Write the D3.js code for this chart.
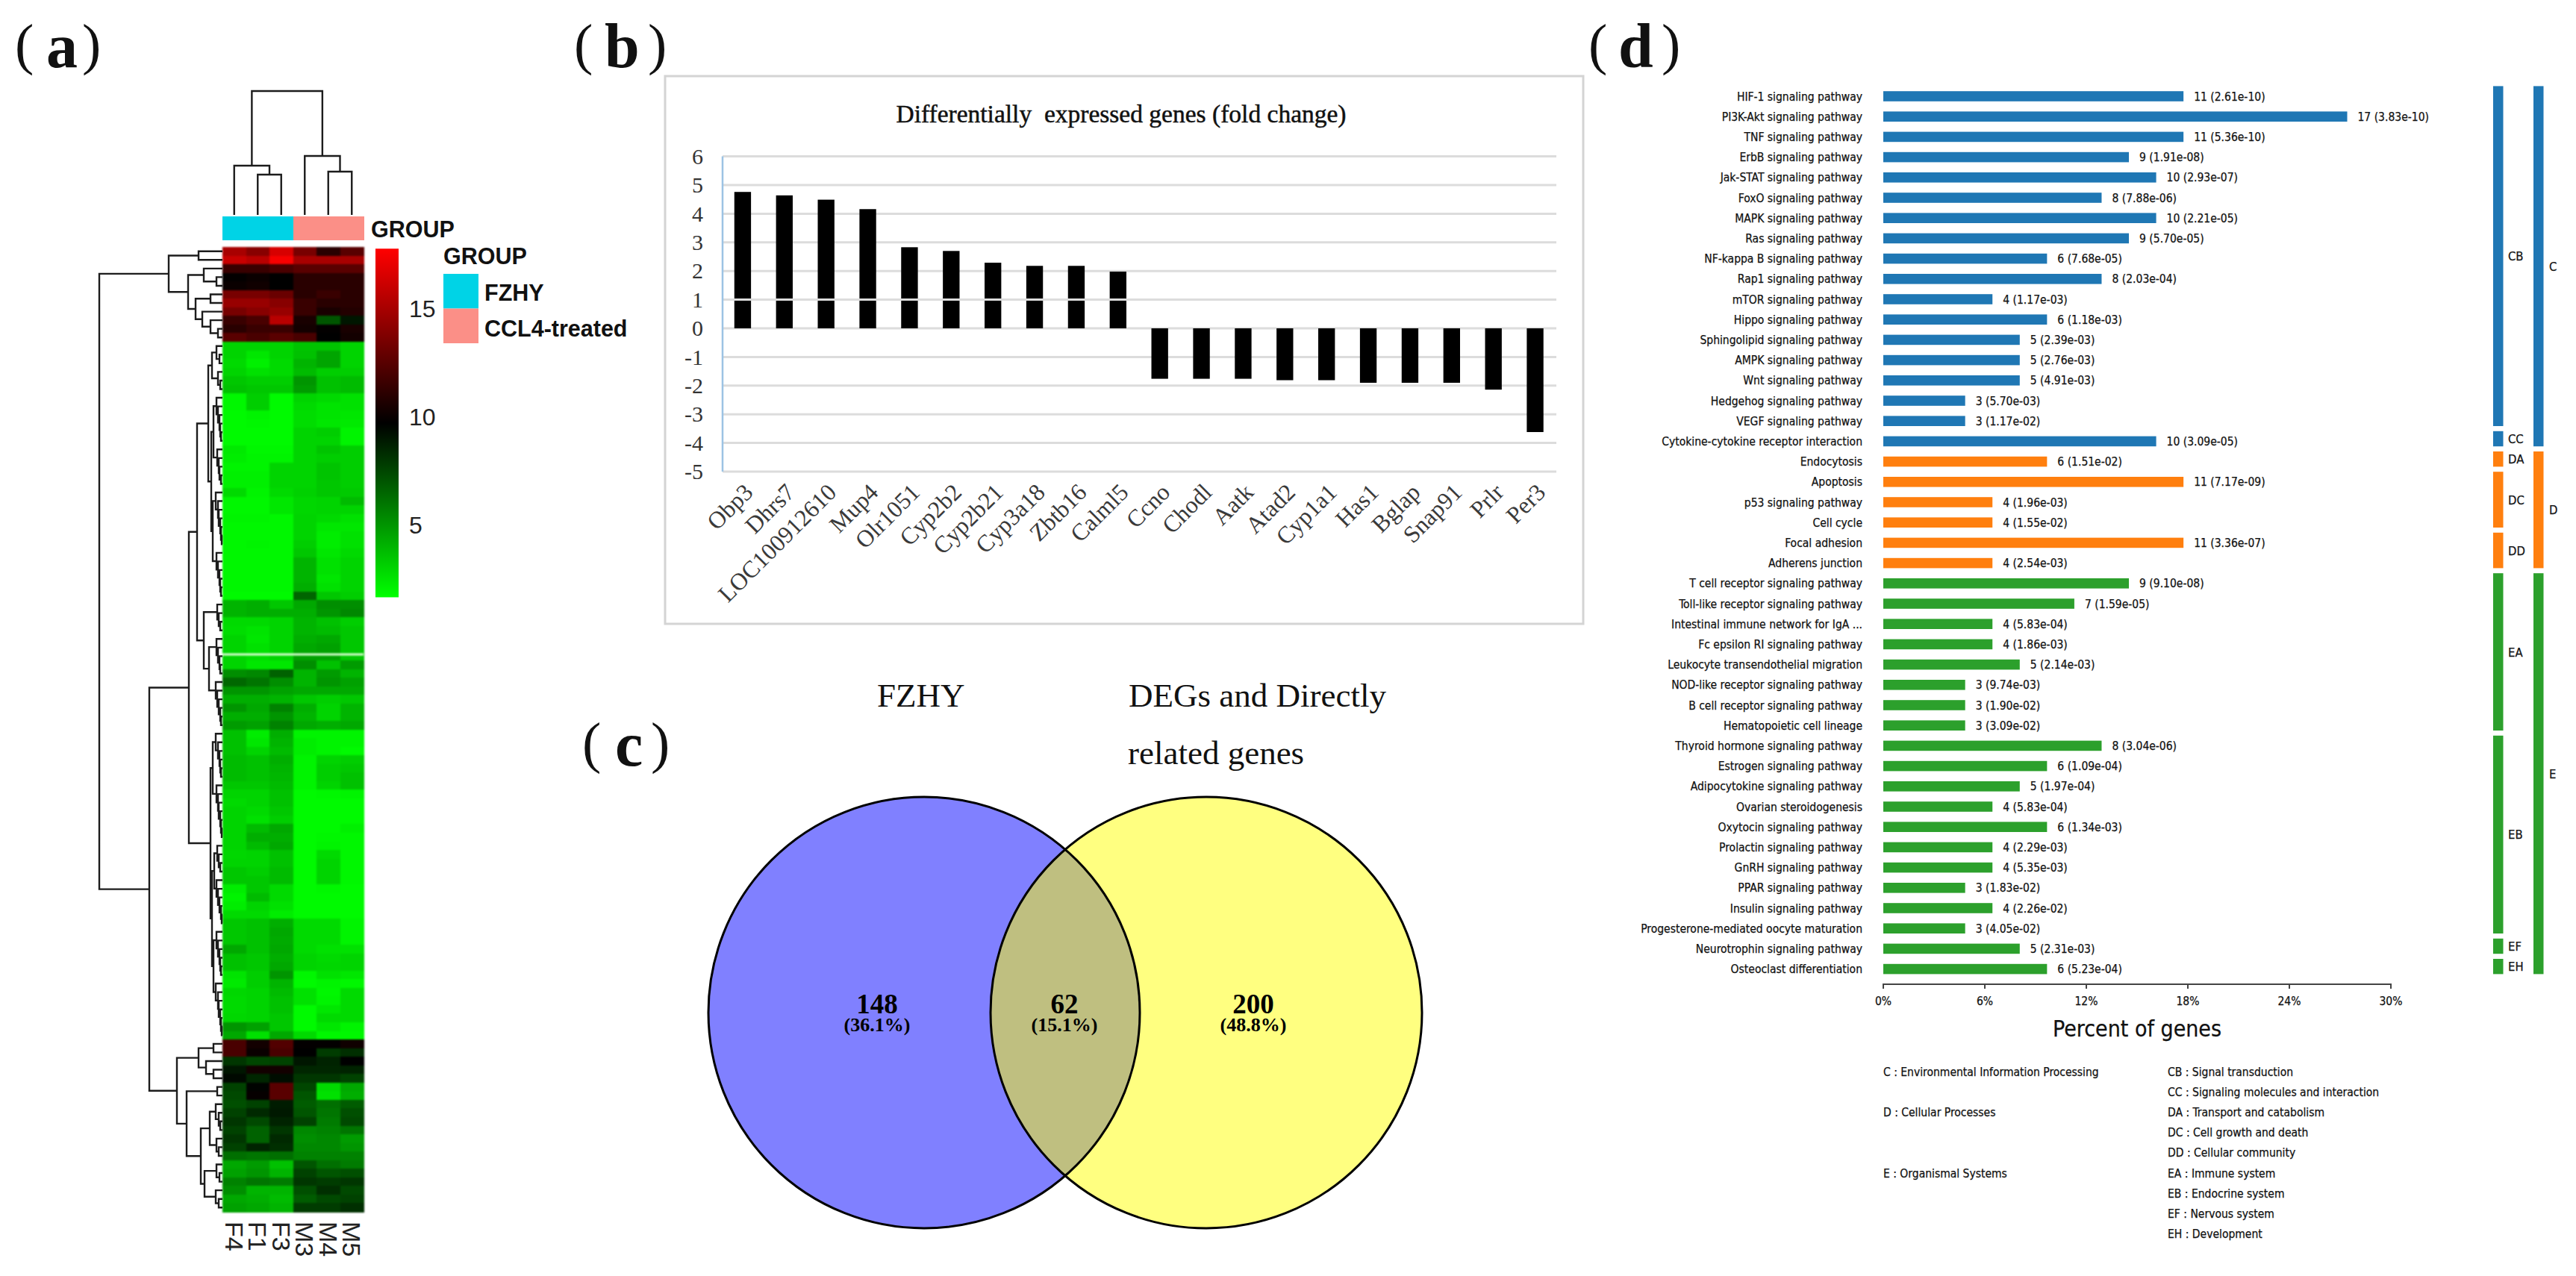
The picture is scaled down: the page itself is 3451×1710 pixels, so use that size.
<!DOCTYPE html>
<html><head><meta charset="utf-8">
<script src="https://cdnjs.cloudflare.com/ajax/libs/d3/7.8.5/d3.min.js"></script>
<style>html,body{margin:0;padding:0;background:#fff}svg{display:block}</style></head>
<body><svg id="c" width="3451" height="1710"></svg>
<script>
// ---------- panel (a) data ----------
const heatColumns = ["F4","F1","F3","M3","M4","M5"];
const columnGroups = ["FZHY","FZHY","FZHY","CCL4-treated","CCL4-treated","CCL4-treated"];
const colorTicks = [15,10,5];
const redRows = [
[15,14,16.5,13.5,11,12.5],[16,15.5,17.5,15,15,15],[11.5,11.5,12,12.5,12.5,12.5],[9.8,10,9.7,11,11,11],
[10,10.2,9.7,11,11,11],[13.5,13.5,13,11,11.5,11],[14.5,14.5,14,11.5,11,11],[13.5,14,14.5,11.5,10.5,10.8],
[11.5,12,15.5,10.5,7,9],[11,11.5,11.5,10.3,9.8,10.5],[12.5,12,12.5,12,9.7,10.3]];
const greenRows = [
[3,3,3,3.5,3.5,3],[3,2.4,3,3.6,4.5,3],[2.8,2.1,2.8,4,4.5,3],[3,2.6,2.8,3.8,3.2,3.2],[3.4,3.2,3.2,5,3.6,3.8],[3.6,3.4,3.4,4.8,3.6,3.8],
[1.9,3.2,1.8,3,2.8,2.6],[1.9,3.2,1.8,2.8,2.5,2.6],[1.8,2,1.8,2.7,2.5,2.4],[1.8,1.9,1.8,2.7,2.4,2.3],[1.8,1.8,1.8,3,3.2,2],[1.8,1.8,1.8,3,3,2],
[2.3,1.9,1.9,3,3.5,3.2],[2.2,2,2,3,3.2,3.2],[2,2,3,3,3.5,3.2],[2.1,2.1,3,3,3.5,3.2],[2.1,2.1,3,3,3.4,3.2],[2.8,2,2.8,3.1,3.4,3.3],
[1.9,1.9,2.4,2.9,3,3.8],[1.9,1.9,2.4,2.9,3,3],[2,2,1.9,3,2.8,2.6],[1.9,1.9,1.9,3,2.4,2.4],[1.9,1.9,1.9,3,2.2,2.6],[1.9,2,1.9,3.2,2.2,2.6],
[1.9,1.9,1.9,3.4,2.4,2.8],[1.9,1.9,1.9,4,2.6,3],[1.9,1.9,1.9,4,2.6,3],[1.9,1.9,1.9,4,2.4,3],[1.9,1.9,1.9,4.2,2.6,3],[1.8,1.8,1.8,6.5,3.4,3.2],
[4,4.2,3.4,4.4,5.2,5.2],[4,4.2,4.2,4.2,5,5.4],[2.8,2.8,3,4,3.6,3.2],[2.7,2.5,3,4,3.8,3.4],[3,2.4,3,4.2,4.4,3.4],[3,2.6,3,4.4,4.6,3.4],[3,2.7,3,4.6,4.6,3.4],
[3,2.4,2.4,5.2,3.6,4.8],[5.2,5.4,6.6,4,4.8,4],[6.4,6,5.2,4,5,4.6],[5,5,4.6,4.4,4.4,4.4],[4.2,4.2,4,3.4,3.2,3.4],[5,4.4,5.6,4.2,3,4],[4.2,4.2,5,4,3,4],[4.8,4.6,5.6,4.4,4.2,4.4],
[3.6,2.2,4.2,2,2,2],[3.6,2.4,4,2.2,2,2],[3.6,3,3.8,2.2,2,1.8],[3.8,3.6,4.2,2,3,3.2],[3.8,3.6,4,2,3.2,3.4],[3.8,3.6,3.9,2,3.2,3.6],[3.4,3.4,3.8,2,3,3.6],
[3,3,3.6,1.8,1.9,2],[2.8,3,3.6,1.8,1.8,1.8],[3,2.8,3.4,1.8,1.8,1.8],[3,2.6,3.2,1.8,1.8,1.8],[3,3.8,4.4,1.8,1.8,2.1],[3,4.2,4.2,1.8,1.9,1.9],[3,3.8,4.4,1.8,2,1.9],
[2.9,3,3.6,1.8,2.8,1.9],[3,3,3.6,1.8,3,1.9],[3.4,3.2,3.8,1.8,3,1.9],[3.4,3.4,3.8,1.8,3,1.9],[2.2,3.4,2.8,1.8,1.9,1.8],[2,3.8,2.8,1.8,1.8,1.8],[2.2,3,2.6,1.8,1.8,1.8],[2.8,2.8,2.2,1.8,1.8,1.8],
[3.4,3.6,4.2,2.8,2.8,2],[3.4,3.6,4.4,2.8,2.8,2],[3.4,3.6,4.3,2.8,2.8,2],[4.4,3.6,4.4,2.8,2.6,2.6],[3.6,3.4,4.2,3,2.8,3],[3.6,3.4,4.4,3,2.9,3],
[2.5,3.2,5,1.9,2.6,2.4],[2.3,3.2,4,1.8,2,1.9],[2.9,3,3.8,2.6,1.9,2.8],[2.8,3,3.6,2.6,2,2.8],[2.8,3,3.6,1.8,2.4,2.8],[2.9,3,3.4,1.8,2.8,2.8],[5,4.6,3.4,1.8,2.4,2],[4.4,2.6,4.4,2.8,1.9,1.9]];
const darkRows = [
[12,10.3,12.3,9.8,9.8,10.2],[12,10,12,9.7,7.8,8.2],[8,7.5,7.6,9,8.6,9.7],[9,10.3,10.3,8.5,8.5,8.6],[9.4,8.5,9.3,8,8,7.6],
[7.6,9.6,12.5,7.5,2.8,4.4],[7.4,9.9,12.5,7,2.6,4.2],[7.2,7.6,8.8,6.8,6.2,6.8],[7.6,8.4,8.9,7,6,7.2],[8,7.4,8.6,7.6,5.8,7.4],
[7.6,6.6,8,5.4,5.6,6],[8,6.6,8.4,5.2,5.4,4.8],[7.6,8.6,8.2,5.4,5.4,5],[6.2,6,6.2,5.6,5.6,5.6],[4.4,4.8,3.6,7,6.2,5.8],
[4.6,5,4,7.6,7,7.2],[5.6,6,5.8,8,7.8,8],[5.2,4,4,7.2,8.2,7.4],[4.4,4.2,3.8,6.8,7.4,7.6],[4.6,4.4,4,7.8,7.8,8.2]];
// dendrogram merge heights: [height, left, right], 0 = leaf
const ladder = (...h) => h.length ? [h[0], 0, ladder(...h.slice(1))] : 0;
const columnTree = [166,[66,0,[54,0,0]],[79,0,[58,0,0]]];
const rowTree = [165,
  [72,[32,0,0],[46,ladder(25,8),[36,[16,0,0],[27,0,ladder(16,6)]]]],
  [98,
    [45,
      [34,
        [19,[14,ladder(8,4),ladder(6,3)],[15,[12,ladder(8,6,4,3,2),ladder(7,5,4,2)],[13,ladder(9,6,5,3,2,1),ladder(8,6,4,3,2)]]],
        [25,ladder(7,5,3),[18,ladder(8,6,4,3),ladder(9,7,5,3,2)]]],
      [16,[13,ladder(9,6,4,3,2),ladder(8,6,5,3,2,1)],[14,[11,ladder(7,5,3),ladder(8,6,4,2,1)],[12,ladder(8,6,4,3,2),ladder(9,6,5,3,2,1)]]]],
    [61,
      [32,[12,0,0],[22,0,[12,0,0]]],
      [48,[7,0,0],[29,[17,ladder(9,5,3),ladder(8,5)],[24,ladder(8,4),ladder(9,5)]]]]]];
// ---------- panel (b) data ----------
const geneNames = ["Obp3","Dhrs7","LOC100912610","Mup4","Olr1051","Cyp2b2","Cyp2b21","Cyp3a18","Zbtb16","Calml5","Ccno","Chodl","Aatk","Atad2","Cyp1a1","Has1","Bglap","Snap91","Prlr","Per3"];
const foldChange = [4.76,4.64,4.49,4.16,2.83,2.70,2.29,2.18,2.18,1.98,-1.76,-1.76,-1.76,-1.81,-1.81,-1.90,-1.90,-1.90,-2.14,-3.62];
const foldTicks = [6,5,4,3,2,1,0,-1,-2,-3,-4,-5];
const foldTitle = "Differentially  expressed genes (fold change)";
// ---------- panel (c) data ----------
const vennCounts = [148,62,200];
const vennPercents = ["(36.1%)","(15.1%)","(48.8%)"];
// ---------- panel (d) data ----------
const pathways = ["HIF-1 signaling pathway","PI3K-Akt signaling pathway","TNF signaling pathway","ErbB signaling pathway","Jak-STAT signaling pathway","FoxO signaling pathway","MAPK signaling pathway","Ras signaling pathway","NF-kappa B signaling pathway","Rap1 signaling pathway","mTOR signaling pathway","Hippo signaling pathway","Sphingolipid signaling pathway","AMPK signaling pathway","Wnt signaling pathway","Hedgehog signaling pathway","VEGF signaling pathway","Cytokine-cytokine receptor interaction","Endocytosis","Apoptosis","p53 signaling pathway","Cell cycle","Focal adhesion","Adherens junction","T cell receptor signaling pathway","Toll-like receptor signaling pathway","Intestinal immune network for IgA ...","Fc epsilon RI signaling pathway","Leukocyte transendothelial migration","NOD-like receptor signaling pathway","B cell receptor signaling pathway","Hematopoietic cell lineage","Thyroid hormone signaling pathway","Estrogen signaling pathway","Adipocytokine signaling pathway","Ovarian steroidogenesis","Oxytocin signaling pathway","Prolactin signaling pathway","GnRH signaling pathway","PPAR signaling pathway","Insulin signaling pathway","Progesterone-mediated oocyte maturation","Neurotrophin signaling pathway","Osteoclast differentiation"];
const geneCounts = [11,17,11,9,10,8,10,9,6,8,4,6,5,5,5,3,3,10,6,11,4,4,11,4,9,7,4,4,5,3,3,3,8,6,5,4,6,4,4,3,4,3,5,6];
const qValues = ["2.61e-10","3.83e-10","5.36e-10","1.91e-08","2.93e-07","7.88e-06","2.21e-05","5.70e-05","7.68e-05","2.03e-04","1.17e-03","1.18e-03","2.39e-03","2.76e-03","4.91e-03","5.70e-03","1.17e-02","3.09e-05","1.51e-02","7.17e-09","1.96e-03","1.55e-02","3.36e-07","2.54e-03","9.10e-08","1.59e-05","5.83e-04","1.86e-03","2.14e-03","9.74e-03","1.90e-02","3.09e-02","3.04e-06","1.09e-04","1.97e-04","5.83e-04","1.34e-03","2.29e-03","5.35e-03","1.83e-02","2.26e-02","4.05e-02","2.31e-03","5.23e-04"];
const subClassRuns = [["CB",17],["CC",1],["DA",1],["DC",3],["DD",2],["EA",8],["EB",10],["EF",1],["EH",1]];
const classRuns = [["C",18],["D",6],["E",20]];
const totalGenes = 62;
const percentTicks = [0,6,12,18,24,30];
const classLegend = [[0,"C : Environmental Information Processing"],[2,"D : Cellular Processes"],[5,"E : Organismal Systems"]];
const subClassLegend = ["CB : Signal transduction","CC : Signaling molecules and interaction","DA : Transport and catabolism","DC : Cell growth and death","DD : Cellular community","EA : Immune system","EB : Endocrine system","EF : Nervous system","EH : Development"];

// ---------- drawing ----------
const svg = d3.select("#c");
svg.append("rect").attr("width",3451).attr("height",1710).attr("fill","#fff");
const SANS="'Liberation Sans',Arial,sans-serif", SERIF="'Liberation Serif','Times New Roman',serif", DJ="'DejaVu Sans Condensed','DejaVu Sans',sans-serif";

// panel labels
[["a",20,62,110,90],["b",769,810,868,90],["c",780,824,872,1026],["d",2128,2168,2226,90]].forEach(([t,x0,x1,x2,y])=>{
  const g=svg.append("g").attr("font-family",SERIF).attr("fill","#111");
  g.append("text").attr("x",x0).attr("y",y-5).text("(").attr("font-size",76).attr("font-weight",400);
  g.append("text").attr("x",x1).attr("y",y).text(t).attr("font-size",84).attr("font-weight",700);
  g.append("text").attr("x",x2).attr("y",y-5).text(")").attr("font-size",76).attr("font-weight",400);
});

// ---- (a) heatmap
const allRows = redRows.concat(greenRows,darkRows);
const hx = d3.scaleBand().domain(heatColumns).range([298,487]);
const hy = d3.scaleBand().domain(d3.range(allRows.length)).range([331,1624]);
const heatColor = d3.scaleLinear().domain([1.64,9.7,17.75]).range(["#00ff00","#000000","#ff0000"]);
const ga = svg.append("g");
const gh = ga.append("g").style("filter","blur(1px)");
allRows.forEach((row,i)=>{
  gh.selectAll(null).data(row).join("rect")
    .attr("x",(d,j)=>hx(heatColumns[j])).attr("y",hy(i))
    .attr("width",hx.bandwidth()+0.5).attr("height",hy.bandwidth()+0.5)
    .attr("fill",d=>heatColor(d)).attr("shape-rendering","crispEdges");
});
gh.append("line").attr("x1",298).attr("x2",487).attr("y1",877).attr("y2",877).attr("stroke","#d8ffd0").attr("stroke-width",3);
// annotation bar
const groupColor = d3.scaleOrdinal().domain(["FZHY","CCL4-treated"]).range(["#00d3e6","#fb8f87"]);
ga.selectAll(null).data(heatColumns).join("rect")
  .attr("x",d=>hx(d)).attr("y",290).attr("width",hx.bandwidth()+0.5).attr("height",32)
  .attr("fill",(d,i)=>groupColor(columnGroups[i])).attr("shape-rendering","crispEdges");
ga.selectAll(null).data(heatColumns).join("text")
  .attr("transform",d=>`translate(${hx(d)+hx.bandwidth()/2},1637) rotate(90)`)
  .attr("dy","0.36em").attr("font-family",SANS).attr("font-size",34).attr("fill","#222").text(d=>d);
// dendrograms
function drawTree(tree,leafPos,heightPos,horizontalLeaves){
  let leaf=0; const segs=[];
  (function walk(n){
    if(n===0){const p=leafPos(leaf++);return {p,h:0};}
    const a=walk(n[1]),b=walk(n[2]),H=n[0];
    const A=heightPos(a.h),B=heightPos(b.h),T=heightPos(H);
    if(horizontalLeaves){segs.push(`M${A},${a.p}H${T}V${b.p}H${B}`);}
    else{segs.push(`M${a.p},${A}V${T}H${b.p}V${B}`);}
    return {p:(a.p+b.p)/2,h:H};
  })(tree);
  ga.append("path").attr("d",segs.join("")).attr("fill","none").attr("stroke","#1c1c1c").attr("stroke-width",2.4);
}
drawTree(rowTree,i=>hy(i)+hy.bandwidth()/2,d3.scaleLinear().domain([0,165]).range([298,133]),true);
drawTree(columnTree,i=>hx(heatColumns[i])+hx.bandwidth()/2,d3.scaleLinear().domain([0,166]).range([288,122]),false);
// legend
const boldSans=(x,y,t)=>ga.append("text").attr("x",x).attr("y",y).attr("dy","0.36em").attr("font-family",SANS).attr("font-weight",700).attr("font-size",30.5).attr("fill","#111").text(t);
boldSans(497,307,"GROUP"); boldSans(594,343,"GROUP");
groupColor.domain().forEach((g,i)=>{
  ga.append("rect").attr("x",594).attr("y",367+i*46.5).attr("width",47).attr("height",46.5).attr("fill",groupColor(g));
  boldSans(649,392+i*48,g);
});
// colour bar
const barScale = d3.scaleLinear().domain([10,15]).range([558,413]);
const defs = svg.append("defs");
const grad = defs.append("linearGradient").attr("id","cbar").attr("x1",0).attr("x2",0).attr("y1",1).attr("y2",0);
heatColor.domain().forEach((v,i,a)=>grad.append("stop").attr("offset",i/(a.length-1)).attr("stop-color",heatColor(v)));
ga.append("rect").attr("x",503).attr("width",31).attr("y",barScale(heatColor.domain()[2])).attr("height",barScale(heatColor.domain()[0])-barScale(heatColor.domain()[2])).attr("fill","url(#cbar)");
ga.selectAll(null).data(colorTicks).join("text").attr("x",548).attr("y",d=>barScale(d)).attr("dy","0.36em").attr("font-family",SANS).attr("font-size",32).attr("fill","#222").text(d=>d);

// ---- (b) bars
const gb = svg.append("g");
gb.append("rect").attr("x",891).attr("y",102).attr("width",1230).attr("height",734).attr("fill","#fff").attr("stroke","#d4d4d4").attr("stroke-width",3);
const by = d3.scaleLinear().domain([0,1]).range([440,401.6]);
const bx = d3.scaleBand().domain(geneNames).range([967,2084.5]).paddingInner(0.6).paddingOuter(0.3);
const gridLine = sel=>sel.attr("x1",968).attr("x2",2085).attr("y1",d=>by(d)).attr("y2",d=>by(d)).attr("stroke","#dcdcdc").attr("stroke-width",3);
gb.selectAll(null).data(foldTicks).join("line").call(gridLine);
gb.selectAll(null).data(geneNames).join("rect")
  .attr("x",d=>bx(d)).attr("width",bx.bandwidth())
  .attr("y",(d,i)=>by(Math.max(0,foldChange[i]))).attr("height",(d,i)=>Math.abs(by(foldChange[i])-by(0)))
  .attr("fill","#000");
gb.selectAll(null).data([1]).join("line").call(gridLine);
gb.append("line").attr("x1",968).attr("x2",968).attr("y1",by(6)).attr("y2",by(-5)).attr("stroke","#9cc3e4").attr("stroke-width",2.5);
gb.selectAll(null).data(foldTicks).join("text").attr("x",942).attr("y",d=>by(d)).attr("dy","0.34em").attr("text-anchor","end")
  .attr("font-family",SERIF).attr("font-size",30).attr("fill","#333").text(d=>d);
gb.selectAll(null).data(geneNames).join("text")
  .attr("transform",d=>`translate(${bx(d)+bx.bandwidth()/2+8},654) rotate(-45)`)
  .attr("text-anchor","end").attr("dy","0.34em").attr("font-family",SERIF).attr("font-size",32).attr("fill","#3a3a3a").text(d=>d);
gb.append("text").attr("x",1502).attr("y",154).attr("dy","0.3em").attr("text-anchor","middle").attr("font-family",SERIF).attr("font-size",33.5).attr("fill","#111").attr("stroke","#111").attr("stroke-width",0.5).style("white-space","pre").text(foldTitle);

// ---- (c) venn
const gc = svg.append("g");
const vennX=[1238,1616], vennY=1357, vennR=289;
defs.append("clipPath").attr("id","vl").append("circle").attr("cx",vennX[0]).attr("cy",vennY).attr("r",vennR);
gc.append("circle").attr("cx",vennX[0]).attr("cy",vennY).attr("r",vennR).attr("fill","#8080ff");
gc.append("circle").attr("cx",vennX[1]).attr("cy",vennY).attr("r",vennR).attr("fill","#ffff80");
gc.append("circle").attr("cx",vennX[1]).attr("cy",vennY).attr("r",vennR).attr("fill","#bfbf80").attr("clip-path","url(#vl)");
vennX.forEach(x=>gc.append("circle").attr("cx",x).attr("cy",vennY).attr("r",vennR).attr("fill","none").attr("stroke","#000").attr("stroke-width",3));
const vennLabelX=[1175,1426,1679];
gc.selectAll(null).data(vennCounts).join("text").attr("x",(d,i)=>vennLabelX[i]).attr("y",1358).attr("text-anchor","middle").attr("font-family",SERIF).attr("font-weight",700).attr("font-size",37).attr("fill","#000").text(d=>d);
gc.selectAll(null).data(vennPercents).join("text").attr("x",(d,i)=>vennLabelX[i]).attr("y",1382).attr("text-anchor","middle").attr("font-family",SERIF).attr("font-weight",700).attr("font-size",26).attr("fill","#000").text(d=>d);
const serifT=(x,y,t,a)=>gc.append("text").attr("x",x).attr("y",y).attr("text-anchor",a||"start").attr("font-family",SERIF).attr("font-size",45).attr("fill","#111").text(t);
serifT(1175,947,"FZHY"); serifT(1512,947,"DEGs and Directly"); serifT(1511,1024,"related genes");

// ---- (d) pathways
const gd = svg.append("g");
const dx = d3.scaleLinear().domain([0,30]).range([2523,3203]);
const step = 27.2, firstC = 129;
const dy = d3.scaleBand().domain(d3.range(pathways.length)).range([firstC-step/2,firstC-step/2+step*pathways.length]).paddingInner(0.5).paddingOuter(0.25);
const classColor = {C:"#1f77b4",D:"#ff7f0e",E:"#2ca02c"};
const rowClass = classRuns.flatMap(([c,n])=>d3.range(n).map(()=>c));
const tD=(sel,size)=>sel.attr("font-family",DJ).attr("font-size",size||15.5).attr("fill","#111").attr("stroke","#111").attr("stroke-width",0.25);
gd.selectAll(null).data(pathways).join("rect")
  .attr("x",dx(0)).attr("y",(d,i)=>dy(i)).attr("height",dy.bandwidth())
  .attr("width",(d,i)=>dx(geneCounts[i]/totalGenes*100)-dx(0)).attr("fill",(d,i)=>classColor[rowClass[i]]);
gd.selectAll(null).data(pathways).join("text").attr("x",2495).attr("y",(d,i)=>dy(i)+dy.bandwidth()/2).attr("dy","0.36em").attr("text-anchor","end").call(tD).text(d=>d);
gd.selectAll(null).data(pathways).join("text").attr("x",(d,i)=>dx(geneCounts[i]/totalGenes*100)+14).attr("y",(d,i)=>dy(i)+dy.bandwidth()/2).attr("dy","0.36em").call(tD).text((d,i)=>`${geneCounts[i]} (${qValues[i]})`);
function runs(list,x,lx){
  let s=0;
  list.forEach(([name,n])=>{
    const top=dy(s)-step/4, bot=dy(s+n-1)+dy.bandwidth();
    gd.append("rect").attr("x",x).attr("width",13.5).attr("y",top).attr("height",bot-top).attr("fill",classColor[name[0]]);
    gd.append("text").attr("x",lx).attr("y",(top+bot)/2).attr("dy","0.36em").call(tD,16.5).text(name);
    s+=n;
  });
}
runs(subClassRuns,3340,3360); runs(classRuns,3394,3415);
gd.append("line").attr("x1",dx(0)).attr("x2",dx(30)).attr("y1",1319).attr("y2",1319).attr("stroke","#444").attr("stroke-width",2);
gd.selectAll(null).data(percentTicks).join("line").attr("x1",d=>dx(d)).attr("x2",d=>dx(d)).attr("y1",1318).attr("y2",1325).attr("stroke","#444").attr("stroke-width",2);
gd.selectAll(null).data(percentTicks).join("text").attr("x",d=>dx(d)).attr("y",1341).attr("dy","0.36em").attr("text-anchor","middle").call(tD).text(d=>d+"%");
gd.append("text").attr("x",2863).attr("y",1378).attr("dy","0.36em").attr("text-anchor","middle").call(tD,30).text("Percent of genes");
const legY=i=>1436+i*27.2;
gd.selectAll(null).data(classLegend).join("text").attr("x",2523).attr("y",d=>legY(d[0])).attr("dy","0.36em").call(tD).text(d=>d[1]);
gd.selectAll(null).data(subClassLegend).join("text").attr("x",2904).attr("y",(d,i)=>legY(i)).attr("dy","0.36em").call(tD).text(d=>d);
</script></body></html>
